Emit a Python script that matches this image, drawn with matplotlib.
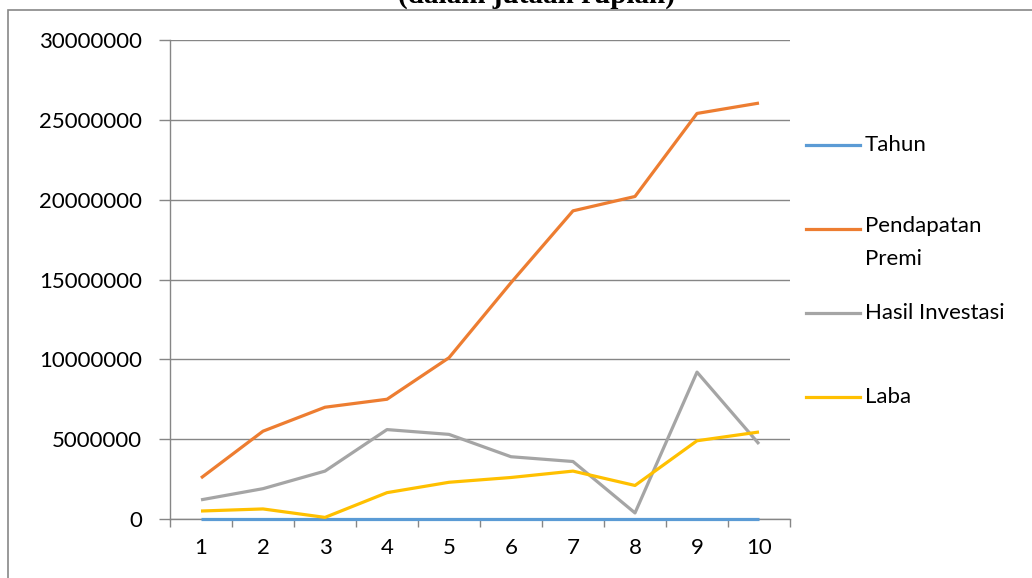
import matplotlib.pyplot as plt
from matplotlib.lines import Line2D
from matplotlib.patches import Rectangle

# data (values in rupiah)
periods = ['1', '2', '3', '4', '5', '6', '7', '8', '9', '10']
tahun = [2008, 2009, 2010, 2011, 2012, 2013, 2014, 2015, 2016, 2017]
pendapatan_premi = [2570000, 5500000, 7000000, 7500000, 10100000,
                    14800000, 19300000, 20200000, 25400000, 26050000]
hasil_investasi = [1200000, 1900000, 3000000, 5600000, 5300000,
                   3900000, 3600000, 380000, 9200000, 4700000]
laba = [500000, 630000, 100000, 1650000, 2300000,
        2600000, 3000000, 2100000, 4900000, 5450000]

series = [('Tahun', tahun, '#5B9BD5'),
          ('Pendapatan\nPremi', pendapatan_premi, '#ED7D31'),
          ('Hasil Investasi', hasil_investasi, '#A5A5A5'),
          ('Laba', laba, '#FFC000')]

W, H = 1032, 578
fig = plt.figure(figsize=(W / 100, H / 100), dpi=100)
ax = fig.add_axes([170 / W, 1 - 519 / H, 620 / W, 479 / H])

x = list(range(1, len(periods) + 1))
for label, vals, col in series:
    ax.plot(x, vals, color=col, lw=2.3, solid_capstyle='butt', clip_on=False, zorder=3)

grid_col = '#868686'
ax.set_xlim(0.5, len(periods) + 0.5)
ax.set_ylim(0, 30000000)
ax.set_yticks(range(0, 30000001, 5000000))
ax.set_yticklabels([str(v) for v in range(0, 30000001, 5000000)])
ax.yaxis.grid(True, color=grid_col, lw=1)
ax.set_axisbelow(True)

ax.set_xticks([i + 0.5 for i in range(0, len(periods) + 1)])
ax.set_xticklabels([])
ax.set_xticks(x, minor=True)
ax.set_xticklabels(periods, minor=True)
ax.tick_params(axis='x', which='major', direction='out', length=6, color=grid_col, width=1)
ax.tick_params(axis='x', which='minor', length=0, pad=14, labelsize=16)
ax.tick_params(axis='y', direction='out', length=8, color=grid_col, width=1, pad=12, labelsize=16)
for lab in ax.get_xticklabels(minor=True) + ax.get_yticklabels():
    lab.set_fontfamily('Lato')

for s in ['top', 'right']:
    ax.spines[s].set_visible(False)
for s in ['left', 'bottom']:
    ax.spines[s].set_color(grid_col)
    ax.spines[s].set_linewidth(1)

# legend drawn at the right side
leg_y = [145, 229, 313, 397]
for (label, vals, col), yy in zip(series, leg_y):
    fy = 1 - yy / H
    fig.add_artist(Line2D([806 / W, 860 / W], [fy, fy], color=col, lw=2.3,
                          transform=fig.transFigure))
    if '\n' in label:
        fig.text(865 / W, 1 - (229 - 13) / H, label, fontsize=16, family='Lato',
                 va='top', ha='left', linespacing=1.8)
    else:
        fig.text(865 / W, fy, label, fontsize=16, family='Lato', va='center', ha='left')

# outer chart border
fig.add_artist(Rectangle((8 / W, -0.05), 1.1, 1 - 10 / H + 0.05, transform=fig.transFigure,
                         fill=False, edgecolor='#888888', lw=1.2))

# title (cut off at the top of the image)
fig.text(537 / W, 1 - 3 / H, '(dalam jutaan rupiah)', fontsize=21, fontweight='bold',
         family='Liberation Serif', ha='center', va='baseline')

fig.savefig('out.png', dpi=100)
